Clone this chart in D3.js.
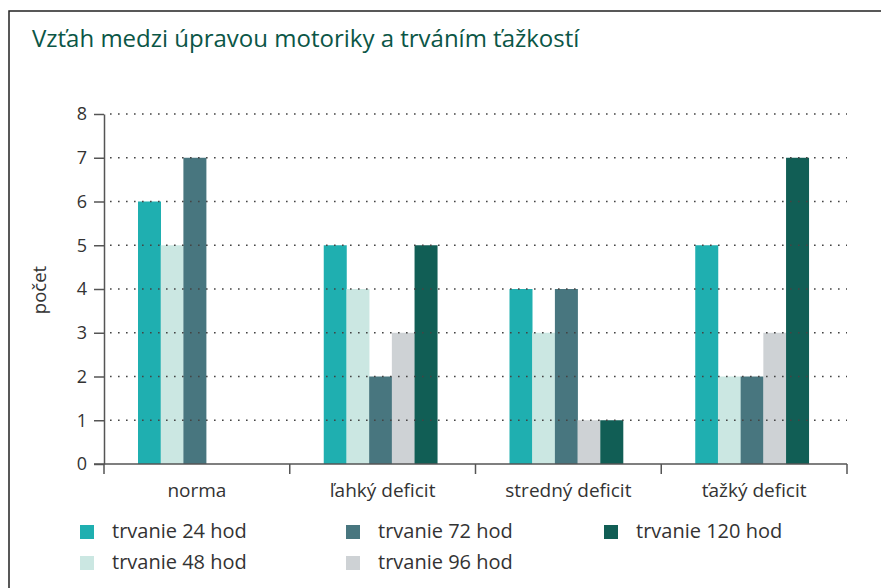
<!DOCTYPE html>
<html>
<head>
<meta charset="utf-8">
<script src="https://cdn.jsdelivr.net/npm/d3@7"></script>
<style>
  body { margin: 0; background: #fff; }
  text { font-family: "Open Sans", sans-serif; }
</style>
</head>
<body>
<div id="viz"></div>
<script>
var width = 881;
var height = 588;

// data
var categories = ["norma", "ľahký deficit", "stredný deficit", "ťažký deficit"];
var seriesNames = ["trvanie 24 hod", "trvanie 48 hod", "trvanie 72 hod", "trvanie 96 hod", "trvanie 120 hod"];
var h24 = [6, 5, 4, 5];
var h48 = [5, 4, 3, 2];
var h72 = [7, 2, 4, 2];
var h96 = [0, 3, 1, 3];
var h120 = [0, 5, 1, 7];
var yTicks = [0, 1, 2, 3, 4, 5, 6, 7, 8];
var colors = ["#1fafb0", "#cbe7e2", "#48767f", "#ced2d5", "#115e55"];

var series = [h24, h48, h72, h96, h120];

var svg = d3.select("#viz")
  .append("svg")
  .attr("width", width)
  .attr("height", height);

// frame
svg.append("path")
  .attr("d", "M9," + height + " L9,11 L" + width + ",11")
  .attr("fill", "none")
  .attr("stroke", "#222")
  .attr("stroke-width", 1.5);

// title
svg.append("text")
  .attr("x", 32)
  .attr("y", 47)
  .attr("font-size", 24)
  .attr("fill", "#0b5646")
  .text("Vzťah medzi úpravou motoriky a trváním ťažkostí");

var x0 = d3.scaleBand().domain(categories).range([104, 847]).padding(0);
var x1 = d3.scaleBand().domain(d3.range(5)).range([34, 34 + 113.5]);
var y = d3.scaleLinear().domain([0, 8]).range([464, 114]);

// bars
var groups = svg.append("g").selectAll("g")
  .data(categories)
  .enter().append("g")
  .attr("transform", function(d) { return "translate(" + x0(d) + ",0)"; });

groups.selectAll("rect")
  .data(function(d, i) { return series.map(function(s, j) { return { k: j, v: s[i] }; }); })
  .enter().append("rect")
  .attr("x", function(d) { return x1(d.k); })
  .attr("width", x1.bandwidth() + 0.3)
  .attr("y", function(d) { return y(d.v); })
  .attr("height", function(d) { return y(0) - y(d.v); })
  .attr("fill", function(d) { return colors[d.k]; });

// dotted grid, drawn over bars
svg.append("g").selectAll("line")
  .data(yTicks.filter(function(t) { return t > 0; }))
  .enter().append("line")
  .attr("x1", 104)
  .attr("x2", 847)
  .attr("y1", function(d) { return y(d); })
  .attr("y2", function(d) { return y(d); })
  .attr("stroke", "#444")
  .attr("stroke-width", 1.6)
  .attr("stroke-dasharray", "1.6,6.4")
  .attr("stroke-dashoffset", -6);

// y axis
var yAxis = svg.append("g")
  .attr("transform", "translate(104,0)")
  .call(d3.axisLeft(y).tickValues(yTicks).tickSize(10).tickPadding(7).tickSizeOuter(0));
yAxis.select(".domain").attr("stroke", "#555").attr("stroke-width", 1.5);
yAxis.selectAll(".tick line").attr("stroke", "#555").attr("stroke-width", 1.5);
yAxis.selectAll("text")
  .attr("font-family", "Open Sans")
  .attr("font-size", 18)
  .attr("fill", "#333");

// x axis with ticks on band edges
var xAxisG = svg.append("g").attr("transform", "translate(0,464)");
xAxisG.append("line")
  .attr("x1", 94).attr("x2", 847)
  .attr("stroke", "#555").attr("stroke-width", 1.5);
var edges = categories.map(function(c) { return x0(c); }).concat([x0.range()[1]]);
xAxisG.selectAll("line.edge")
  .data(edges)
  .enter().append("line")
  .attr("class", "edge")
  .attr("x1", function(d) { return d; })
  .attr("x2", function(d) { return d; })
  .attr("y1", 0).attr("y2", 10)
  .attr("stroke", "#555").attr("stroke-width", 1.5);
xAxisG.selectAll("text")
  .data(categories)
  .enter().append("text")
  .attr("x", function(d) { return x0(d) + x0.bandwidth() / 2; })
  .attr("y", 33)
  .attr("text-anchor", "middle")
  .attr("font-size", 19)
  .attr("fill", "#333")
  .text(function(d) { return d; });

// y label
svg.append("text")
  .attr("transform", "translate(46,290) rotate(-90)")
  .attr("text-anchor", "middle")
  .attr("font-size", 18.5)
  .attr("fill", "#333")
  .text("počet");

// legend
var legendPos = [[80, 525], [80, 556], [346, 525], [346, 556], [604, 525]];
var legend = svg.append("g").selectAll("g")
  .data(seriesNames)
  .enter().append("g")
  .attr("transform", function(d, i) { return "translate(" + legendPos[i][0] + "," + legendPos[i][1] + ")"; });
legend.append("rect")
  .attr("width", 14).attr("height", 14)
  .attr("fill", function(d, i) { return colors[i]; });
legend.append("text")
  .attr("x", 32)
  .attr("y", 13)
  .attr("font-size", 20)
  .attr("fill", "#333")
  .text(function(d) { return d; });
</script>
</body>
</html>
